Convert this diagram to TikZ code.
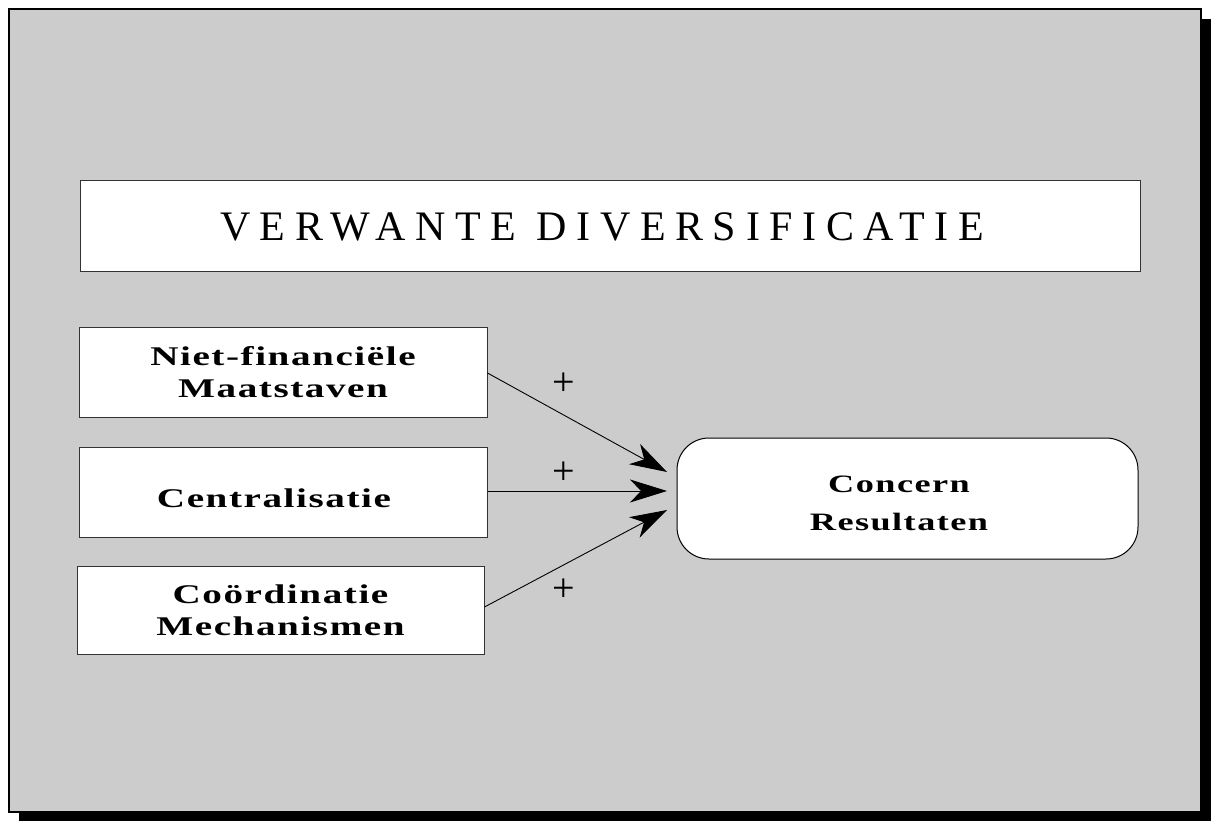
\documentclass[tikz,border=0pt]{standalone}
\usepackage{fontspec}
\usetikzlibrary{arrows.meta}
\setmainfont{Liberation Serif}
\newfontfamily\boxfont[LetterSpace=4]{Liberation Serif}
\newfontfamily\titlefont[LetterSpace=23]{Liberation Serif}
\definecolor{panelgray}{HTML}{CCCCCC}
\definecolor{edge}{HTML}{333333}
\tikzset{
  sqbox/.style={draw=edge, line width=1pt, fill=white, inner sep=0pt},
  boxtext/.style={inner sep=0pt, align=center, xscale=1.45, transform shape,
    font=\boxfont\bfseries\fontsize{27}{32}\selectfont},
  restext/.style={boxtext, font=\boxfont\bfseries\fontsize{25}{38}\selectfont},
  resbox/.style={draw=black, line width=1pt, fill=white, inner sep=0pt, rounded corners=32pt},
  link/.style={line width=0.9pt, -{Stealth[length=37pt,width=23pt,inset=11pt]}},
  plus/.style={font=\fontsize{40}{40}\selectfont, inner sep=0pt}
}
\begin{document}
\begin{tikzpicture}[x=1pt,y=-1pt]
\useasboundingbox (0,0) rectangle (1211,821);
\fill[black] (19,19) rectangle (1211,821);
\filldraw[fill=panelgray, draw=black, line width=2pt] (9,9) rectangle (1201,812);

\node[sqbox, minimum width=1060pt, minimum height=91pt, align=center,
  font=\titlefont\fontsize{42}{42}\selectfont] (title) at (610,226.5) {VERWANTE DIVERSIFICATIE\kern16pt};

\node[sqbox, minimum width=408pt, minimum height=90pt] (a) at (283,372) {};
\node[boxtext] (at) at (a.center) {Niet-financiële\\Maatstaven};
\node[sqbox, minimum width=408pt, minimum height=90pt] (b) at (283,492) {};
\node[boxtext, anchor=base] (bt) at (274,507) {Centralisatie};
\node[sqbox, minimum width=407pt, minimum height=88pt] (c) at (280.5,610) {};
\node[boxtext] (ct) at (c.center) {Coördinatie\\Mechanismen};

\node[resbox, minimum width=461pt, minimum height=121pt] (r) at (907.5,498.5) {};
\node[restext] (rt) at (899,503) {Concern\\Resultaten};

\coordinate (t1) at (667,472);
\coordinate (t2) at (667,491);
\coordinate (t3) at (667,510);

\draw[link] (a.east |- 0,373) -- (t1);
\draw[link] (b.east |- 0,491) -- (t2);
\draw[link] (c.east |- 0,607) -- (t3);

\node[plus] (p1) at (564,384) {+};
\node[plus] (p2) at (564,473) {+};
\node[plus] (p3) at (564,590) {+};
\end{tikzpicture}
\end{document}
